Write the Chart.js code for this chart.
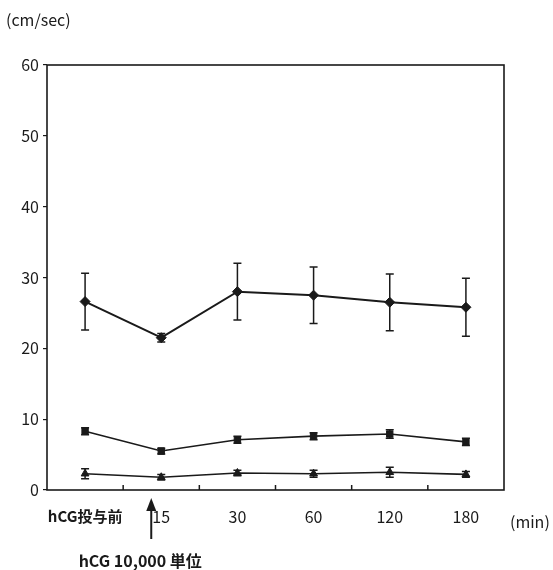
<!DOCTYPE html>
<html>
<head>
<meta charset="utf-8">
<script src="https://cdn.jsdelivr.net/npm/chart.js@4/dist/chart.umd.min.js"></script>
<style>
  html, body { margin: 0; padding: 0; background: #fff; }
  #wrap { width: 553px; height: 570px; position: relative; }
</style>
</head>
<body>
<div id="wrap"><canvas id="chart"></canvas></div>
<script>
// values (mean, +/- error)
const categories = ['hCG投与前', '15', '30', '60', '120', '180'];
const diamondMean = [26.6, 21.5, 28.0, 27.5, 26.5, 25.8];
const diamondErr = [4.0, 0.6, 4.0, 4.0, 4.0, 4.1];
const squareMean = [8.3, 5.5, 7.1, 7.6, 7.9, 6.8];
const squareErr = [0.5, 0.4, 0.5, 0.5, 0.6, 0.5];
const triangleMean = [2.3, 1.8, 2.4, 2.3, 2.5, 2.2];
const triangleErr = [0.7, 0.4, 0.4, 0.5, 0.7, 0.4];
const yMin = 0, yMax = 60, yStep = 10;

const FONT = "'Noto Sans CJK JP', 'Open Sans', sans-serif";
const INK = '#1a1a1a';

// error bars + frame + inner x ticks + loose labels
const decorations = {
    id: 'decorations',
    afterDatasetsDraw(chart) {
        const { ctx, chartArea: a, scales } = chart;
        const y = scales.y, x = scales.x;
        ctx.save();
        ctx.strokeStyle = INK;
        ctx.lineWidth = 1.5;

        chart.data.datasets.forEach((ds, i) => {
            const meta = chart.getDatasetMeta(i);
            meta.data.forEach((pt, j) => {
                const e = ds.errors[j];
                const top = y.getPixelForValue(ds.data[j] + e);
                const bot = y.getPixelForValue(ds.data[j] - e);
                ctx.beginPath();
                ctx.moveTo(pt.x, top); ctx.lineTo(pt.x, bot);
                ctx.moveTo(pt.x - 4, top); ctx.lineTo(pt.x + 4, top);
                ctx.moveTo(pt.x - 4, bot); ctx.lineTo(pt.x + 4, bot);
                ctx.stroke();
            });
        });

        // box
        ctx.lineWidth = 1.6;
        ctx.strokeRect(a.left, a.top, a.right - a.left, a.bottom - a.top);

        // short inward ticks between categories
        ctx.lineWidth = 1.5;
        for (let k = 1; k < categories.length; k++) {
            const px = (x.getPixelForValue(k - 1) + x.getPixelForValue(k)) / 2;
            ctx.beginPath();
            ctx.moveTo(px, a.bottom);
            ctx.lineTo(px, a.bottom - 5);
            ctx.stroke();
        }

        // arrow marking the injection
        const ax = x.getPixelForValue(1) - 10;
        ctx.lineWidth = 2;
        ctx.beginPath();
        ctx.moveTo(ax, a.bottom + 49);
        ctx.lineTo(ax, a.bottom + 18);
        ctx.stroke();
        ctx.fillStyle = INK;
        ctx.beginPath();
        ctx.moveTo(ax, a.bottom + 8);
        ctx.lineTo(ax - 5, a.bottom + 21);
        ctx.lineTo(ax + 5, a.bottom + 21);
        ctx.closePath();
        ctx.fill();

        ctx.fillStyle = INK;
        ctx.textBaseline = 'middle';
        ctx.font = 'bold 16px ' + FONT;
        ctx.textAlign = 'center';
        ctx.fillText('hCG 10,000 単位', ax - 11, a.bottom + 71);

        ctx.font = '16px ' + FONT;
        ctx.textAlign = 'left';
        ctx.fillText('(min)', a.right + 6, a.bottom + 32);
        ctx.fillText('(cm/sec)', 6, 20);
        ctx.restore();
    }
};

const lineStyle = (data, errors, shape, radius, width) => ({
    data, errors,
    borderColor: INK,
    backgroundColor: INK,
    borderWidth: width,
    pointStyle: shape,
    pointRadius: radius,
    pointBorderWidth: 1,
    tension: 0
});

new Chart(document.getElementById('chart'), {
    type: 'line',
    data: {
        labels: categories,
        datasets: [
            lineStyle(diamondMean, diamondErr, 'rectRot', 5, 2),
            lineStyle(squareMean, squareErr, 'rect', 4.5, 1.6),
            lineStyle(triangleMean, triangleErr, 'triangle', 4.5, 1.6)
        ]
    },
    options: {
        responsive: true,
        maintainAspectRatio: false,
        animation: false,
        layout: { padding: { left: 0, top: 65, right: 49, bottom: 0 } },
        plugins: { legend: { display: false }, tooltip: { enabled: false } },
        scales: {
            x: {
                offset: true,
                grid: { display: false },
                border: { display: false },
                afterFit: s => { s.height = 80; },
                ticks: {
                    color: INK,
                    padding: 9,
                    maxRotation: 0,
                    autoSkip: false,
                    font: c => ({ family: FONT, size: c.index === 0 ? 15 : 16, weight: c.index === 0 ? 'bold' : 'normal' })
                }
            },
            y: {
                min: yMin, max: yMax,
                grid: { display: true, drawOnChartArea: false, tickLength: 4, color: INK, lineWidth: 1.2 },
                border: { display: false },
                afterFit: s => { s.width = 47; },
                ticks: {
                    stepSize: yStep,
                    color: INK,
                    padding: 4,
                    font: { family: FONT, size: 16 }
                }
            }
        }
    },
    plugins: [decorations]
});
</script>
</body>
</html>
